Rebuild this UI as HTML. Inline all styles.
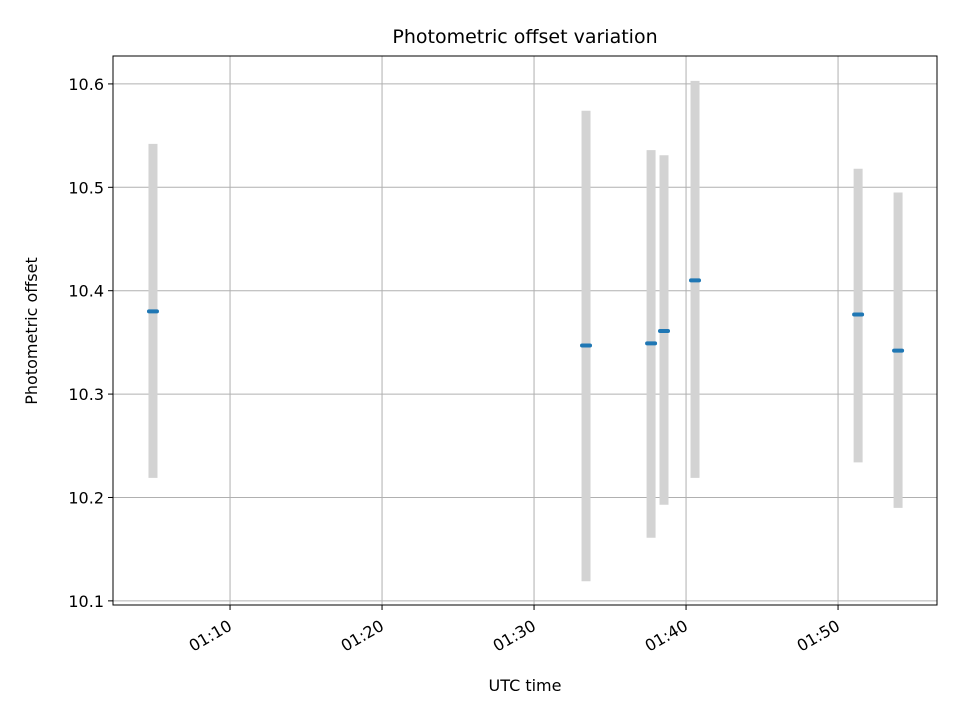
<!DOCTYPE html>
<html><head><meta charset="utf-8"><style>body{margin:0;background:#fff}svg{display:block;font-family:"DejaVu Sans","Liberation Sans",sans-serif}</style></head>
<body>
<svg id="c" width="960" height="720"></svg>
<script>
const times=[64.93,93.42,97.70,98.55,100.59,111.32,113.95];
const values=[10.380,10.347,10.349,10.361,10.410,10.377,10.342];
const upper=[10.542,10.574,10.536,10.531,10.603,10.518,10.495];
const lower=[10.219,10.119,10.161,10.193,10.219,10.234,10.190];
const xTicks=[70,80,90,100,110];
const xTickLabels=["01:10","01:20","01:30","01:40","01:50"];
const yTicks=[10.1,10.2,10.3,10.4,10.5,10.6];
const yTickLabels=["10.1","10.2","10.3","10.4","10.5","10.6"];
const L=113,R=937,T=56,B=605,x0=62.30,x1=116.51,y0=10.096,y1=10.627;
const X=v=>L+(v-x0)/(x1-x0)*(R-L), Y=v=>B-(v-y0)/(y1-y0)*(B-T);
const svg=document.getElementById('c'),NS='http://www.w3.org/2000/svg';
function mk(t,a,p,txt){const e=document.createElementNS(NS,t);for(const k in a)e.setAttribute(k,a[k]);if(txt!==undefined)e.textContent=txt;(p||svg).appendChild(e);return e;}
let e;
e=mk('rect',{x:L,y:T,width:R-L,height:B-T,fill:'#fff'});


xTicks.forEach((t,i)=>{const x=X(t);
 e=mk('line',{x1:x,x2:x,y1:T,y2:B,stroke:'#b0b0b0','stroke-width':1});
 
 
 mk('line',{x1:x,x2:x,y1:B,y2:B+5,stroke:'#000'});
 const tx=x+3,ty=B+24;
 e=mk('text',{x:tx,y:ty,'font-size':16,'text-anchor':'end',transform:`rotate(-30 ${tx} ${ty})`},null,xTickLabels[i]);
 
 
});
yTicks.forEach((t,i)=>{const y=Y(t);
 e=mk('line',{x1:L,x2:R,y1:y,y2:y,stroke:'#b0b0b0','stroke-width':1});
 
 
 mk('line',{x1:L-5,x2:L,y1:y,y2:y,stroke:'#000'});
 e=mk('text',{x:L-9,y:y+6,'font-size':16,'text-anchor':'end'},null,yTickLabels[i]);
 
 
});
times.forEach((t,i)=>{const x=X(t);
 e=mk('line',{x1:x,x2:x,y1:Y(upper[i]),y2:Y(lower[i]),stroke:'#d3d3d3','stroke-width':9});
 
 
 e=mk('line',{x1:x-4,x2:x+4,y1:Y(values[i]),y2:Y(values[i]),stroke:'#1f77b4','stroke-width':4,'stroke-linecap':'round'});
 
 
});
e=mk('rect',{x:L,y:T,width:R-L,height:B-T,fill:'none',stroke:'#000','stroke-width':1});


e=mk('text',{x:(L+R)/2,y:43,'font-size':19,'text-anchor':'middle'},null,'Photometric offset variation');


e=mk('text',{x:525,y:691,'font-size':16,'text-anchor':'middle'},null,'UTC time');


e=mk('text',{x:37,y:331,'font-size':16,'text-anchor':'middle',transform:'rotate(-90 37 331)'},null,'Photometric offset');


</script>
</body></html>
